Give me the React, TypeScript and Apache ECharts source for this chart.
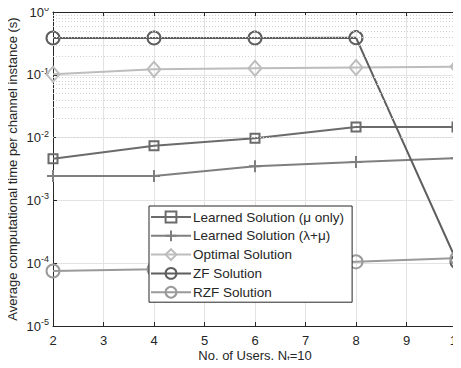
import React, { useEffect, useRef } from "react";
import * as echarts from "echarts";

const users = [2, 4, 6, 8, 10];
const learnedMu = [0.0046, 0.0074, 0.0098, 0.0148, 0.0148];
const learnedLamMu = [0.00245, 0.00245, 0.0035, 0.0041, 0.0047];
const optimal = [0.102, 0.123, 0.127, 0.131, 0.135];
const zf = [0.385, 0.385, 0.385, 0.39, 0.000105];
const rzf = [0.000075, 0.00008, 0.00009, 0.000105, 0.00012];

const seriesNames = [
  "Learned Solution (μ only)",
  "Learned Solution (λ+μ)",
  "Optimal Solution",
  "ZF Solution",
  "RZF Solution",
];
const minorY: number[] = [];
for (let e = -5; e < 0; e++) for (let m = 2; m <= 9; m++) minorY.push(m * Math.pow(10, e));

const FONT = "'Liberation Sans', Arial, Helvetica, sans-serif";
const TXT = "#262626";

export default function App() {
  const ref = useRef<HTMLDivElement>(null);
  useEffect(() => {
    const chart = echarts.init(ref.current!, null, { renderer: "svg" });
    const mk = (name: string, data: number[], color: string, symbol: string, size: any, width = 2) => ({
      name,
      type: "line",
      data: users.map((u, i) => [u, data[i]]),
      symbol,
      symbolSize: size,
      showAllSymbol: true,
      lineStyle: { color, width },
      itemStyle: { color: "rgba(255,255,255,0)", borderColor: color, borderWidth: 2 },
      z: 3,
    });
    const plus = "path://M0,5L10,5M5,0L5,10";
    const boxAxisLine = { show: true, lineStyle: { color: TXT, width: 1 } };
    const boxTick = { show: true, inside: true, length: 4, lineStyle: { color: TXT } };
    chart.setOption({
      animation: false,
      textStyle: { fontFamily: FONT },
      grid: { left: 53, right: 4, top: 12, bottom: 42, containLabel: false, outerBoundsMode: "none" },
      legend: {
        left: 149,
        top: 206,
        orient: "vertical",
        data: seriesNames,
        backgroundColor: "#fff",
        borderColor: TXT,
        borderWidth: 1,
        padding: [4, 8, 3, 1],
        itemWidth: 40,
        itemHeight: 13.5,
        itemGap: 4.8,
        textStyle: { fontSize: 13.5, color: TXT, fontFamily: FONT, padding: [0, 0, 0, -3] },
        z: 10,
      },
      xAxis: [
        {
          type: "value",
          min: 2,
          max: 10,
          interval: 1,
          name: "No. of Users, N{sub|t}=10",
          nameLocation: "middle",
          nameGap: 21,
          nameMoveOverlap: false,
          nameTextStyle: {
            fontSize: 13,
            color: TXT,
            fontFamily: FONT,
            rich: { sub: { fontSize: 9, padding: [7, 0, 0, 0], color: TXT, fontFamily: FONT } },
          },
          axisLine: boxAxisLine,
          axisTick: boxTick,
          axisLabel: { fontSize: 13, color: TXT, margin: 8, fontFamily: FONT },
          splitLine: { show: true, lineStyle: { color: "#e3e3e3", width: 1 } },
        },
        {
          type: "value",
          min: 2,
          max: 10,
          interval: 1,
          position: "top",
          axisLine: boxAxisLine,
          axisTick: boxTick,
          axisLabel: { show: false },
          splitLine: { show: false },
        },
      ],
      yAxis: [
        {
          type: "log",
          logBase: 10,
          min: 1e-5,
          max: 1,
          name: "Average computational time per channel instance (s)",
          nameLocation: "middle",
          nameGap: 34,
          nameMoveOverlap: false,
          nameTextStyle: { fontSize: 13, color: TXT, fontFamily: FONT },
          axisLine: boxAxisLine,
          axisTick: boxTick,
          axisLabel: {
            fontSize: 13,
            color: TXT,
            margin: 4,
            fontFamily: FONT,
            formatter: (v: number) => `10{sup|${Math.round(Math.log10(v))}}`,
            rich: { sup: { fontSize: 9, padding: [0, 0, 8, 0], color: TXT, fontFamily: FONT } },
          },
          splitLine: { show: true, lineStyle: { color: "#e3e3e3", width: 1 } },
        },
        {
          type: "log",
          logBase: 10,
          min: 1e-5,
          max: 1,
          position: "right",
          axisLine: boxAxisLine,
          axisTick: boxTick,
          axisLabel: { show: false },
          splitLine: { show: false },
        },
      ],
      series: [
        {
          type: "line",
          data: [],
          silent: true,
          z: 1,
          markLine: {
            silent: true,
            symbol: "none",
            label: { show: false },
            lineStyle: { color: "#d0d0d0", type: [1, 2], width: 1 },
            data: minorY.map((v) => ({ yAxis: v })),
          },
        },
        mk(seriesNames[0], learnedMu, "#6b6b6b", "rect", 9),
        mk(seriesNames[1], learnedLamMu, "#7f7f7f", plus, 12),
        mk(seriesNames[2], optimal, "#bdbdbd", "diamond", [13, 15]),
        mk(seriesNames[3], zf, "#5e5e5e", "circle", 13),
        mk(seriesNames[4], rzf, "#9a9a9a", "circle", 13),
      ],
    });
    return () => chart.dispose();
  }, []);
  return <div ref={ref} style={{ width: 461, height: 368, margin: -8 }} />;
}
